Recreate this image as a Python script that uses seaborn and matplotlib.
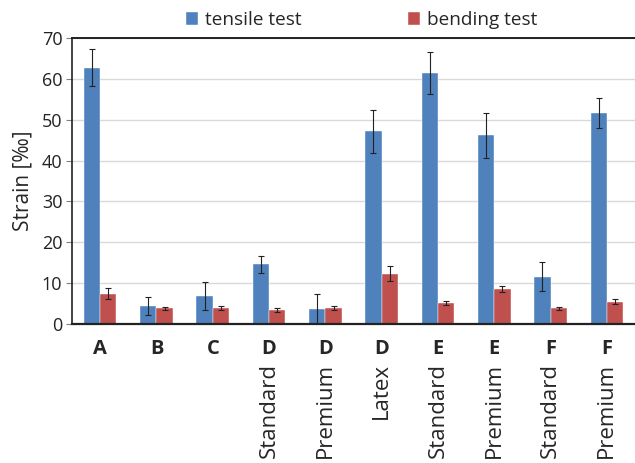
import matplotlib
matplotlib.use("Agg")
import matplotlib.pyplot as plt
import seaborn as sns
import pandas as pd
import numpy as np

groups = ["A", "B", "C", "D", "D", "D", "E", "E", "F", "F"]
subs = ["", "", "", "Standard", "Premium", "Latex", "Standard", "Premium", "Standard", "Premium"]
tensile = [62.7, 4.4, 6.9, 14.6, 3.6, 47.2, 61.4, 46.2, 11.6, 51.6]
tensile_err = [4.5, 2.1, 3.5, 2.1, 3.7, 5.3, 5.2, 5.5, 3.6, 3.6]
bending = [7.4, 3.8, 4.0, 3.4, 4.0, 12.3, 5.2, 8.6, 3.8, 5.5]
bending_err = [1.3, 0.4, 0.5, 0.4, 0.5, 1.8, 0.5, 0.8, 0.3, 0.6]
series = ["tensile test", "bending test"]
colors = ["#4F81BD", "#C0504D"]

sns.set_style("white")
plt.rcParams["font.family"] = ["Open Sans", "DejaVu Sans"]

keys = [f"{i}" for i in range(len(groups))]
df = pd.DataFrame({
    "key": keys * 2,
    "value": tensile + bending,
    "series": [series[0]] * len(keys) + [series[1]] * len(keys),
})

fig = plt.figure(figsize=(6.35, 4.63), dpi=100)
ax = fig.add_axes([0.1134, 0.3002, 0.8866, 0.6177])
sns.barplot(data=df, x="key", y="value", hue="series", palette=colors,
            width=0.58, ax=ax, errorbar=None, saturation=1, legend=True)

bar_containers = list(ax.containers)
for s_idx, cont in enumerate(bar_containers):
    errs = tensile_err if s_idx == 0 else bending_err
    vals = tensile if s_idx == 0 else bending
    xs = [p.get_x() + p.get_width() / 2 for p in cont.patches]
    ax.errorbar(xs, vals, yerr=errs, fmt="none", ecolor="#222222",
                elinewidth=0.8, capsize=2.2, capthick=0.8, zorder=5)

for p in ax.patches:
    p.set_edgecolor("white")
    p.set_linewidth(0.3)

ax.set_ylim(0, 70)
ax.set_yticks(range(0, 71, 10))
ax.yaxis.grid(True, color="#D9D9D9", linewidth=1)
ax.set_axisbelow(True)
ax.set_xlim(-0.5, len(groups) - 0.5)
ax.tick_params(axis="y", labelsize=13, length=4, width=0.8, color="#808080",
               direction="out", pad=3, left=True, labelcolor="#222222")
ax.set_xticks(range(len(groups)))
ax.set_xticklabels(groups, fontsize=14.5, fontweight="bold")
ax.tick_params(axis="x", length=0, pad=11)
ax.set_xlabel("")
ax.set_ylabel("Strain [‰]", fontsize=15, labelpad=6)

for sp in ["left", "bottom", "top"]:
    ax.spines[sp].set_visible(True)
    ax.spines[sp].set_color("#222222")
ax.spines["left"].set_linewidth(1.2)
ax.spines["bottom"].set_linewidth(1.6)
ax.spines["top"].set_linewidth(1.4)
ax.spines["right"].set_visible(False)

for i, s in enumerate(subs):
    if s:
        ax.text(i, -0.135, s, transform=ax.get_xaxis_transform(), rotation=90,
                ha="center", va="top", fontsize=16)

h, l = ax.get_legend_handles_labels()
ax.legend(h[:2], l[:2], loc="center", bbox_to_anchor=(0.569, 0.957), bbox_transform=fig.transFigure,
          ncol=2, frameon=False, fontsize=13.7, handlelength=0.65, handleheight=0.65,
          columnspacing=5.6, handletextpad=0.35)

fig.savefig("out.png", dpi=100)
